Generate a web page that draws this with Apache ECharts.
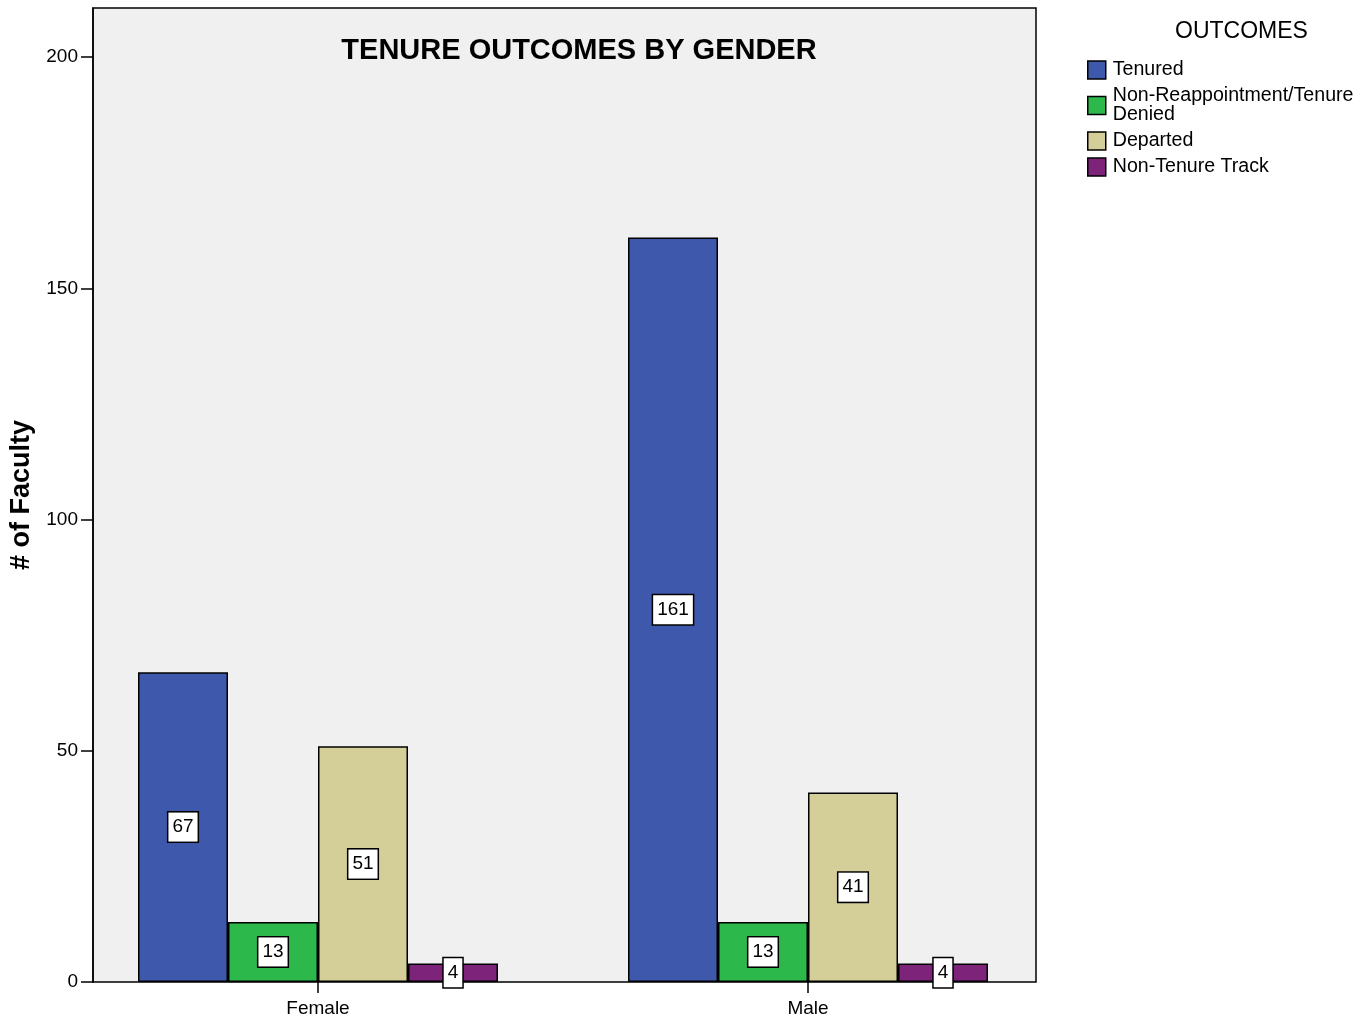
<!DOCTYPE html>
<html><head><meta charset="utf-8">
<script src="https://cdn.jsdelivr.net/npm/echarts@6/dist/echarts.min.js"></script>
<style>html,body{margin:0;padding:0;background:#fff}#c{width:1369px;height:1019px}</style>
</head><body><div id="c"></div>
<script>
const categories = ['Female', 'Male'];
const seriesNames = ['Tenured', 'Non-Reappointment/Tenure Denied', 'Departed', 'Non-Tenure Track'];
const tenured = [67, 161];
const denied = [13, 13];
const departed = [51, 41];
const nonTenure = [4, 4];
const yTicks = [0, 50, 100, 150, 200];
const colors = ['#3e58ab', '#2db84b', '#d4cf98', '#7d237a'];

const FONT = 'Liberation Sans, Arial, sans-serif';
const YMAX = 210.6;
const chart = echarts.init(document.getElementById('c'));
const values = [tenured, denied, departed, nonTenure];

const series = seriesNames.map((n, i) => ({
  name: n, type: 'bar', xAxisIndex: 1, yAxisIndex: 1,
  data: values[i], barWidth: 90, barGap: '0%',
  itemStyle: { color: colors[i], borderColor: '#000', borderWidth: 1.5 },
  label: {
    show: true, position: 'inside', color: '#000', fontFamily: FONT, fontSize: 19,
    backgroundColor: '#fff', borderColor: '#000', borderWidth: 1.5, padding: [6, 4, 4, 4]
  }
}));

chart.setOption({
  animation: false,
  color: colors,
  title: {
    text: 'TENURE OUTCOMES BY GENDER', left: 574, top: 31, textAlign: 'center',
    textStyle: { fontFamily: FONT, fontWeight: 'bold', fontSize: 29, color: '#000' }
  },
  legend: {
    orient: 'vertical', left: 1087, top: 60, itemWidth: 18, itemHeight: 18, itemGap: 6,
    padding: 0, icon: 'rect',
    data: seriesNames,
    formatter: n => n === 'Non-Reappointment/Tenure Denied' ? 'Non-Reappointment/Tenure\nDenied' : n,
    itemStyle: { borderColor: '#000', borderWidth: 1.5 },
    textStyle: { fontFamily: FONT, fontSize: 19.6, lineHeight: 19, color: '#000', padding: [0, 0, 0, 2] }
  },
  graphic: [
    { type: 'text', left: 1175, top: 20, style: { text: 'OUTCOMES', font: '23px ' + FONT, fill: '#000' } }
  ],
  grid: [
    { left: 91, top: 8, width: 945, height: 974, show: true, backgroundColor: '#f0f0f0', borderColor: '#000', borderWidth: 1.5 },
    { left: 73, top: 8, width: 980, height: 974 }
  ],
  xAxis: [
    { type: 'value', gridIndex: 0, show: false, min: 0, max: 1 },
    { type: 'category', gridIndex: 1, data: categories,
      axisLine: { show: false },
      axisTick: { show: true, alignWithLabel: true, length: 11, lineStyle: { color: '#000', width: 1.5 } },
      axisLabel: { fontFamily: FONT, fontSize: 19, color: '#000', margin: 17 } }
  ],
  yAxis: [
    { type: 'value', gridIndex: 0, min: 0, max: YMAX, interval: 50,
      name: '# of Faculty', nameLocation: 'middle', nameGap: 58,
      nameTextStyle: { fontFamily: FONT, fontWeight: 'bold', fontSize: 27, color: '#000' },
      axisLine: { show: true, lineStyle: { color: '#000', width: 1.5 } },
      axisTick: { show: true, length: 12, lineStyle: { color: '#000', width: 1.5 }, customValues: yTicks },
      axisLabel: { fontFamily: FONT, fontSize: 19, color: '#000', margin: 15, customValues: yTicks },
      splitLine: { show: false } },
    { type: 'value', gridIndex: 1, min: 0, max: YMAX, show: false, splitLine: { show: false } }
  ],
  series: series
});
</script></body></html>
